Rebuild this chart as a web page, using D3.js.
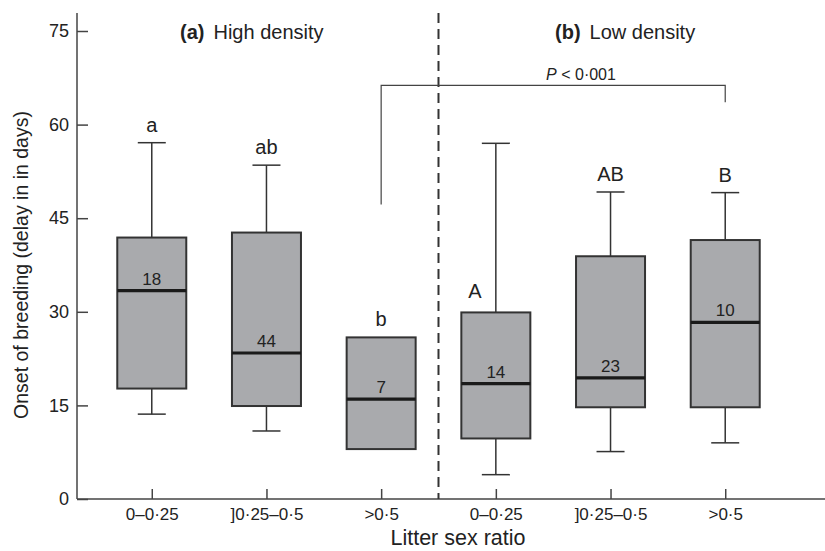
<!DOCTYPE html>
<html>
<head>
<meta charset="utf-8">
<script src="https://cdn.jsdelivr.net/npm/d3@7"></script>
<style>
  body { margin: 0; background: #fff; }
  text { font-family: "Liberation Sans", Arial, sans-serif; fill: #222; }
</style>
</head>
<body>
<section></section>
<script>
// groups along the x axis (high density first, then low density)
var categories = ["0\u20130\u00b725", "]0\u00b725\u20130\u00b75", ">0\u00b75", "0\u20130\u00b725", "]0\u00b725\u20130\u00b75", ">0\u00b75"];
var whiskerLow  = [13.6, 10.9, 8.0, 3.9, 7.6, 9.0];
var boxLow      = [17.7, 14.9, 8.0, 9.7, 14.7, 14.7];
var medians     = [33.4, 23.4, 16.0, 18.5, 19.4, 28.3];
var boxHigh     = [41.9, 42.7, 25.9, 29.9, 38.9, 41.5];
var whiskerHigh = [57.1, 53.5, 25.9, 57.0, 49.2, 49.1];
var sampleSizes = ["18", "44", "7", "14", "23", "10"];
var letters     = ["a", "ab", "b", "A", "AB", "B"];
var yTicks = [0, 15, 30, 45, 60, 75];

var width = 825, height = 551;
var margin = {top: 13, right: 0, bottom: 52, left: 77};

var svg = d3.select("section").append("svg")
    .attr("width", width)
    .attr("height", height);

var x = d3.scaleLinear()
  .domain([-0.652, 5.87])
  .range([margin.left, width]);

var y = d3.scaleLinear()
  .domain([0, 75])
  .range([height - margin.bottom, 31]);

var data = categories.map(function(c, i) {
  return {i: i, cat: c, wl: whiskerLow[i], bl: boxLow[i], med: medians[i],
          bh: boxHigh[i], wh: whiskerHigh[i], n: sampleSizes[i], letter: letters[i]};
});

var axisColor = "#444";
var boxW = 69, capW = 28;

// y axis
var yAxis = svg.append("g")
  .attr("transform", "translate(" + margin.left + ",0)")
  .call(d3.axisRight(y).tickValues(yTicks).tickSize(11).tickFormat(d3.format("d")));
yAxis.select(".domain").remove();
yAxis.selectAll("line").attr("stroke", axisColor).attr("stroke-width", 1.5);
yAxis.selectAll("text").attr("x", -8).style("text-anchor", "end")
  .style("font-size", "18px").attr("fill", "#222");
svg.append("line")
  .attr("x1", margin.left).attr("x2", margin.left)
  .attr("y1", margin.top).attr("y2", y(0))
  .attr("stroke", axisColor).attr("stroke-width", 1.5);

// x axis
var xAxis = svg.append("g")
  .attr("transform", "translate(0," + y(0) + ")")
  .call(d3.axisTop(x).tickValues(d3.range(6)).tickSize(10)
    .tickFormat(function(d) { return categories[d]; }));
xAxis.select(".domain").remove();
xAxis.selectAll("line").attr("stroke", axisColor).attr("stroke-width", 1.5);
xAxis.selectAll("text").attr("y", 21).attr("dy", 0)
  .style("font-size", "17px").attr("fill", "#222");
svg.append("line")
  .attr("x1", margin.left).attr("x2", width)
  .attr("y1", y(0)).attr("y2", y(0))
  .attr("stroke", axisColor).attr("stroke-width", 1.5);

// dashed divider between densities
svg.append("line")
  .attr("x1", x(2.5)).attr("x2", x(2.5))
  .attr("y1", margin.top).attr("y2", y(0))
  .attr("stroke", "#333").attr("stroke-width", 2)
  .attr("stroke-dasharray", "10,6");

// boxes
var box = svg.selectAll(".box")
  .data(data)
  .enter().append("g")
  .attr("class", "box");

box.append("line")
  .attr("x1", function(d) { return x(d.i); })
  .attr("x2", function(d) { return x(d.i); })
  .attr("y1", function(d) { return y(d.wh); })
  .attr("y2", function(d) { return y(d.wl); })
  .attr("stroke", "#333").attr("stroke-width", 1.5);

box.selectAll(".cap")
  .data(function(d) { return d.wh > d.bh ? [[d.i, d.wh], [d.i, d.wl]] : []; })
  .enter().append("line")
  .attr("x1", function(p) { return x(p[0]) - capW / 2; })
  .attr("x2", function(p) { return x(p[0]) + capW / 2; })
  .attr("y1", function(p) { return y(p[1]); })
  .attr("y2", function(p) { return y(p[1]); })
  .attr("stroke", "#333").attr("stroke-width", 1.5);

box.append("rect")
  .attr("x", function(d) { return x(d.i) - boxW / 2; })
  .attr("width", boxW)
  .attr("y", function(d) { return y(d.bh); })
  .attr("height", function(d) { return y(d.bl) - y(d.bh); })
  .attr("fill", "#a9aaad")
  .attr("stroke", "#333").attr("stroke-width", 2);

box.append("line")
  .attr("x1", function(d) { return x(d.i) - boxW / 2; })
  .attr("x2", function(d) { return x(d.i) + boxW / 2; })
  .attr("y1", function(d) { return y(d.med); })
  .attr("y2", function(d) { return y(d.med); })
  .attr("stroke", "#1a1a1a").attr("stroke-width", 3.2);

box.append("text")
  .attr("x", function(d) { return x(d.i); })
  .attr("y", function(d) { return y(d.med) - 6; })
  .style("text-anchor", "middle")
  .style("font-size", "17px")
  .text(function(d) { return d.n; });

// significance letters
box.append("text")
  .attr("x", function(d) { return d.i === 3 ? x(d.i) - 21 : x(d.i); })
  .attr("y", function(d) { return d.i === 3 ? y(d.bh) - 14 : y(d.wh) - 11; })
  .style("text-anchor", "middle")
  .style("font-size", "20px")
  .text(function(d) { return d.letter; });

// comparison bracket
var bracketY = y(66.3);
svg.append("path")
  .attr("d", "M" + x(2) + "," + y(47.2) + "V" + bracketY + "H" + x(5) + "V" + y(63.6))
  .attr("fill", "none").attr("stroke", "#444").attr("stroke-width", 1.2);
var ptext = svg.append("text")
  .attr("x", 581).attr("y", bracketY - 5)
  .style("text-anchor", "middle")
  .style("font-size", "16px");
ptext.append("tspan").style("font-style", "italic").text("P");
ptext.append("tspan").text(" < 0\u00b7001");

// panel titles
function panelTitle(xPos, tag, label) {
  var t = svg.append("text").attr("x", xPos).attr("y", 39)
    .style("font-size", "20px");
  t.append("tspan").style("font-weight", "bold").text(tag);
  t.append("tspan").attr("dx", 9).text(label);
}
panelTitle(180, "(a)", "High density");
panelTitle(555, "(b)", "Low density");

// axis titles
svg.append("text")
  .attr("x", 458).attr("y", 545)
  .style("text-anchor", "middle")
  .style("font-size", "21.5px")
  .text("Litter sex ratio");

svg.append("text")
  .attr("transform", "translate(28," + 265 + ") rotate(-90)")
  .style("text-anchor", "middle")
  .style("font-size", "19.5px")
  .text("Onset of breeding (delay in in days)");
</script>
</body>
</html>
